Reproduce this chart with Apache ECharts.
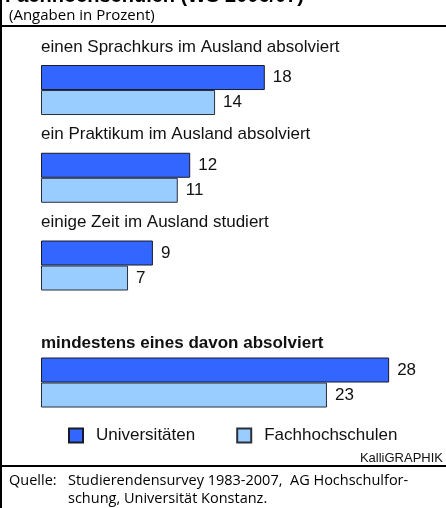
<!DOCTYPE html>
<html>
<head>
<meta charset="utf-8">
<script src="https://cdn.jsdelivr.net/npm/echarts@6/dist/echarts.min.js"></script>
<style>
  html, body { margin: 0; padding: 0; background: #fff; }
  #chart { width: 446px; height: 508px; }
</style>
</head>
<body>
<div id="chart"></div>
<script>
// Studienbezogene Auslandserfahrungen (Angaben in Prozent)
const groups = [
  'einen Sprachkurs im Ausland absolviert',
  'ein Praktikum im Ausland absolviert',
  'einige Zeit im Ausland studiert',
  'mindestens eines davon absolviert'
];
const uniValues = [18, 12, 9, 28];
const fhValues = [14, 11, 7, 23];
const seriesNames = ['Universitäten', 'Fachhochschulen'];

// slot of each group on the category axis (empty slots = spacing)
const slotOf = [0, 3, 6, 10];
const slotCount = 11;

const slots = [];
const uniData = [];
const fhData = [];
for (let i = 0; i < slotCount; i++) {
  const g = slotOf.indexOf(i);
  slots.push(g >= 0 ? groups[g] : '_' + i);
  uniData.push(g >= 0 ? uniValues[g] : '-');
  fhData.push(g >= 0 ? fhValues[g] : '-');
}

const textFont = 'Liberation Sans, Arial, sans-serif';
const noteFont = 'Open Sans, Noto Sans, sans-serif';

let myChart = echarts.init(document.getElementById('chart'), null, { renderer: 'canvas' });
let option = {
  animation: false,
  backgroundColor: '#fff',
  grid: {
    left: 41,
    right: 32,
    top: 75.4,
    height: 321.75
  },
  xAxis: {
    type: 'value',
    min: 0,
    max: 30,
    show: false
  },
  yAxis: {
    type: 'category',
    inverse: true,
    data: slots,
    axisLine: { show: false },
    axisTick: { show: false },
    splitLine: { show: false },
    axisLabel: {
      inside: true,
      interval: 0,
      margin: 0,
      padding: [0, 0, 86, 0],
      color: '#111',
      fontFamily: textFont,
      fontSize: 17,
      formatter: function (value) {
        const g = groups.indexOf(value);
        if (g < 0) return '';
        return g === groups.length - 1 ? '{b|' + value + '}' : value;
      },
      rich: {
        // last group label sits a little closer to its bars
        b: { fontWeight: 'bold', fontSize: 17, fontFamily: textFont, color: '#111', padding: [8, 0, 0, 0] }
      }
    }
  },
  legend: {
    left: 68,
    top: 427,
    padding: 0,
    itemWidth: 14,
    itemHeight: 14,
    itemGap: 41,
    icon: 'rect',
    textStyle: {
      fontFamily: textFont,
      fontSize: 17,
      color: '#111',
      padding: [0, 0, 0, 8]
    },
    data: seriesNames
  },
  series: [
    {
      name: seriesNames[0],
      type: 'bar',
      clip: false,
      barWidth: 25,
      barGap: '0%',
      data: uniData,
      itemStyle: { color: '#3366ff', borderColor: '#1a1a2a', borderWidth: 1 },
      label: {
        show: true, position: 'right', distance: 8,
        fontFamily: textFont, fontSize: 17, color: '#111'
      }
    },
    {
      name: seriesNames[1],
      type: 'bar',
      clip: false,
      barWidth: 25,
      barGap: '0%',
      data: fhData,
      itemStyle: { color: '#99ccff', borderColor: '#2a2f3a', borderWidth: 1 },
      label: {
        show: true, position: 'right', distance: 8,
        fontFamily: textFont, fontSize: 17, color: '#111'
      }
    }
  ],
  graphic: [
    // frame lines
    { type: 'rect', shape: { x: 0, y: 0, width: 2, height: 508 }, style: { fill: '#000' } },
    { type: 'rect', shape: { x: 0, y: 25, width: 446, height: 2 }, style: { fill: '#000' } },
    { type: 'rect', shape: { x: 0, y: 465, width: 446, height: 2 }, style: { fill: '#000' } },
    // title (cut off at the top)
    {
      type: 'text', left: 5, top: -14,
      style: {
        text: 'Fachhochschulen (WS 2006/07)',
        font: 'bold 20px ' + textFont, fill: '#000'
      }
    },
    {
      type: 'text', x: 9, y: 16,
      style: {
        text: '(Angaben in Prozent)', font: '15px ' + noteFont,
        fill: '#000', textVerticalAlign: 'middle'
      }
    },
    {
      type: 'text', x: 443, y: 458,
      style: {
        text: 'KalliGRAPHIK', font: '13px ' + textFont,
        fill: '#111', textAlign: 'right', textVerticalAlign: 'middle'
      }
    },
    {
      type: 'text', x: 9, y: 481,
      style: { text: 'Quelle:', font: '14.5px ' + noteFont, fill: '#000', textVerticalAlign: 'middle' }
    },
    {
      type: 'text', x: 68, y: 481,
      style: {
        text: 'Studierendensurvey 1983-2007,  AG Hochschulfor-',
        font: '14.5px ' + noteFont, fill: '#000', textVerticalAlign: 'middle'
      }
    },
    {
      type: 'text', x: 68, y: 499,
      style: {
        text: 'schung, Universität Konstanz.',
        font: '14.5px ' + noteFont, fill: '#000', textVerticalAlign: 'middle'
      }
    }
  ]
};
myChart.setOption(option, true);
window.addEventListener('resize', () => {
  myChart.resize();
});
</script>
</body>
</html>
